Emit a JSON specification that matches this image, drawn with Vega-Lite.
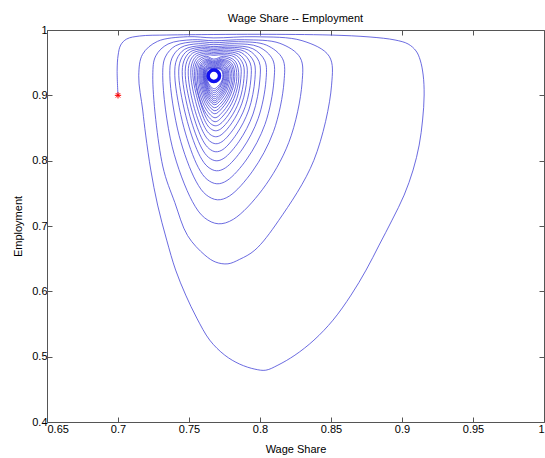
{
"$schema": "https://vega.github.io/schema/vega-lite/v6.json",
"width": 497, "height": 392,
"autosize": {"type": "none"},
"padding": {"left": 47, "top": 30, "right": 1, "bottom": 36},
"background": "white",
"title": {"text": "Wage Share -- Employment", "fontSize": 11, "fontWeight": "normal", "font": "Liberation Sans", "color": "black", "offset": 0},
"config": {"view": {"stroke": null}, "axis": {"labelFont": "Liberation Sans", "titleFont": "Liberation Sans", "labelFontSize": 11, "titleFontSize": 11, "titleFontWeight": "normal", "labelColor": "black", "titleColor": "black", "domainColor": "#555555", "tickColor": "#555555", "grid": false}},
"datasets": {
"path": [
{"i":0,"w":0.7000,"e":0.9000},{"i":1,"w":0.6994,"e":0.9387},{"i":2,"w":0.7001,"e":0.9617},{"i":3,"w":0.7019,"e":0.9770},{"i":4,"w":0.7061,"e":0.9862},{"i":5,"w":0.7153,"e":0.9908},{"i":6,"w":0.7343,"e":0.9923},{"i":7,"w":0.7675,"e":0.9931},{"i":8,"w":0.7999,"e":0.9934},{"i":9,"w":0.8493,"e":0.9923},
{"i":10,"w":0.8775,"e":0.9893},{"i":11,"w":0.8951,"e":0.9847},{"i":12,"w":0.9043,"e":0.9786},{"i":13,"w":0.9099,"e":0.9679},{"i":14,"w":0.9128,"e":0.9541},{"i":15,"w":0.9149,"e":0.9311},{"i":16,"w":0.9156,"e":0.9005},{"i":17,"w":0.9145,"e":0.8622},{"i":18,"w":0.9121,"e":0.8239},{"i":19,"w":0.9078,"e":0.7856},
{"i":20,"w":0.9015,"e":0.7473},{"i":21,"w":0.8930,"e":0.7090},{"i":22,"w":0.8839,"e":0.6708},{"i":23,"w":0.8747,"e":0.6325},{"i":24,"w":0.8641,"e":0.5942},{"i":25,"w":0.8514,"e":0.5559},{"i":26,"w":0.8380,"e":0.5253},{"i":27,"w":0.8246,"e":0.5023},{"i":28,"w":0.8126,"e":0.4870},{"i":29,"w":0.8041,"e":0.4793},
{"i":30,"w":0.7964,"e":0.4809},{"i":31,"w":0.7858,"e":0.4885},{"i":32,"w":0.7752,"e":0.5023},{"i":33,"w":0.7646,"e":0.5253},{"i":34,"w":0.7555,"e":0.5590},{"i":35,"w":0.7477,"e":0.5942},{"i":36,"w":0.7406,"e":0.6325},{"i":37,"w":0.7343,"e":0.6784},{"i":38,"w":0.7279,"e":0.7320},{"i":39,"w":0.7231,"e":0.7856},
{"i":39.4,"w":0.7195,"e":0.8392},{"i":39.7,"w":0.7174,"e":0.8775},
{"i":40,"w":0.7146,"e":0.9300},{"i":41,"w":0.7173,"e":0.9628},{"i":42,"w":0.7278,"e":0.9826},{"i":43,"w":0.7490,"e":0.9897},{"i":44,"w":0.7675,"e":0.9879},{"i":45,"w":0.7965,"e":0.9897},{"i":46,"w":0.8296,"e":0.9837},{"i":47,"w":0.8487,"e":0.9599},{"i":48,"w":0.8504,"e":0.9156},{"i":49,"w":0.8379,"e":0.8004},
{"i":50,"w":0.8131,"e":0.7083},{"i":50.5,"w":0.7964,"e":0.6631},{"i":51,"w":0.7857,"e":0.6490},{"i":52,"w":0.7774,"e":0.6421},{"i":52.3,"w":0.7689,"e":0.6447},{"i":52.6,"w":0.7612,"e":0.6554},{"i":53,"w":0.7490,"e":0.6853},{"i":53.5,"w":0.7400,"e":0.7360},{"i":54,"w":0.7315,"e":0.7918},
{"i":55,"w":0.7245,"e":0.9300},{"i":56,"w":0.7266,"e":0.9603},{"i":57,"w":0.7352,"e":0.9785},{"i":58,"w":0.7524,"e":0.9851},{"i":59,"w":0.7675,"e":0.9835},{"i":60,"w":0.7892,"e":0.9851},{"i":61,"w":0.8140,"e":0.9796},{"i":62,"w":0.8283,"e":0.9576},{"i":63,"w":0.8296,"e":0.9187},{"i":64,"w":0.8203,"e":0.8280},
{"i":65,"w":0.8016,"e":0.7555},{"i":66,"w":0.7812,"e":0.7102},{"i":67,"w":0.7706,"e":0.7034},{"i":67.5,"w":0.7610,"e":0.7125},{"i":68,"w":0.7524,"e":0.7374},{"i":69,"w":0.7382,"e":0.8212},
{"i":70,"w":0.7315,"e":0.9300},{"i":71,"w":0.7333,"e":0.9586},{"i":72,"w":0.7405,"e":0.9758},{"i":73,"w":0.7549,"e":0.9821},{"i":74,"w":0.7675,"e":0.9805},{"i":75,"w":0.7848,"e":0.9821},{"i":76,"w":0.8045,"e":0.9769},{"i":77,"w":0.8159,"e":0.9560},{"i":78,"w":0.8169,"e":0.9205},{"i":79,"w":0.8095,"e":0.8445},
{"i":80,"w":0.7947,"e":0.7838},{"i":81,"w":0.7784,"e":0.7458},{"i":82,"w":0.7700,"e":0.7401},{"i":82.5,"w":0.7621,"e":0.7477},{"i":83,"w":0.7549,"e":0.7686},{"i":84,"w":0.7430,"e":0.8388},
{"i":85,"w":0.7365,"e":0.9300},{"i":86,"w":0.7380,"e":0.9570},{"i":87,"w":0.7442,"e":0.9731},{"i":88,"w":0.7566,"e":0.9790},{"i":89,"w":0.7675,"e":0.9775},{"i":90,"w":0.7823,"e":0.9790},{"i":91,"w":0.7992,"e":0.9741},{"i":92,"w":0.8090,"e":0.9545},{"i":93,"w":0.8098,"e":0.9217},{"i":94,"w":0.8035,"e":0.8556},
{"i":95,"w":0.7908,"e":0.8026},{"i":96,"w":0.7768,"e":0.7696},{"i":97,"w":0.7696,"e":0.7646},{"i":97.5,"w":0.7628,"e":0.7712},{"i":98,"w":0.7566,"e":0.7894},{"i":99,"w":0.7464,"e":0.8506},
{"i":100,"w":0.7400,"e":0.9300},{"i":101,"w":0.7414,"e":0.9553},{"i":102,"w":0.7469,"e":0.9704},{"i":103,"w":0.7579,"e":0.9759},{"i":104,"w":0.7675,"e":0.9746},{"i":105,"w":0.7803,"e":0.9759},{"i":106,"w":0.7950,"e":0.9713},{"i":107,"w":0.8034,"e":0.9530},{"i":108,"w":0.8042,"e":0.9227},{"i":109,"w":0.7987,"e":0.8645},
{"i":110,"w":0.7877,"e":0.8180},{"i":111,"w":0.7756,"e":0.7889},{"i":112,"w":0.7693,"e":0.7845},{"i":112.5,"w":0.7634,"e":0.7903},{"i":113,"w":0.7579,"e":0.8063},{"i":114,"w":0.7488,"e":0.8602},
{"i":115,"w":0.7428,"e":0.9300},{"i":116,"w":0.7441,"e":0.9540},{"i":117,"w":0.7490,"e":0.9684},{"i":118,"w":0.7589,"e":0.9736},{"i":119,"w":0.7675,"e":0.9723},{"i":120,"w":0.7789,"e":0.9736},{"i":121,"w":0.7918,"e":0.9693},{"i":122,"w":0.7993,"e":0.9518},{"i":123,"w":0.7999,"e":0.9235},{"i":124,"w":0.7951,"e":0.8714},
{"i":125,"w":0.7853,"e":0.8297},{"i":126,"w":0.7746,"e":0.8037},{"i":127,"w":0.7691,"e":0.7998},{"i":127.5,"w":0.7638,"e":0.8050},{"i":128,"w":0.7589,"e":0.8193},{"i":129,"w":0.7507,"e":0.8675},
{"i":130,"w":0.7453,"e":0.9300},{"i":131,"w":0.7464,"e":0.9527},{"i":132,"w":0.7508,"e":0.9664},{"i":133,"w":0.7597,"e":0.9714},{"i":134,"w":0.7675,"e":0.9701},{"i":135,"w":0.7776,"e":0.9714},{"i":136,"w":0.7892,"e":0.9672},{"i":137,"w":0.7958,"e":0.9507},{"i":138,"w":0.7964,"e":0.9242},{"i":139,"w":0.7921,"e":0.8776},
{"i":140,"w":0.7834,"e":0.8404},{"i":141,"w":0.7739,"e":0.8171},{"i":142,"w":0.7689,"e":0.8136},{"i":142.5,"w":0.7642,"e":0.8183},{"i":143,"w":0.7597,"e":0.8311},{"i":144,"w":0.7524,"e":0.8741},
{"i":145,"w":0.7474,"e":0.9300},{"i":146,"w":0.7484,"e":0.9515},{"i":147,"w":0.7524,"e":0.9644},{"i":148,"w":0.7605,"e":0.9691},{"i":149,"w":0.7675,"e":0.9679},{"i":150,"w":0.7766,"e":0.9691},{"i":151,"w":0.7871,"e":0.9651},{"i":152,"w":0.7931,"e":0.9495},{"i":153,"w":0.7936,"e":0.9248},{"i":154,"w":0.7897,"e":0.8832},
{"i":155,"w":0.7818,"e":0.8498},{"i":156,"w":0.7732,"e":0.8290},{"i":157,"w":0.7688,"e":0.8259},{"i":157.5,"w":0.7645,"e":0.8301},{"i":158,"w":0.7605,"e":0.8415},{"i":159,"w":0.7538,"e":0.8800},
{"i":160,"w":0.7495,"e":0.9300},{"i":161,"w":0.7504,"e":0.9502},{"i":162,"w":0.7540,"e":0.9623},{"i":163,"w":0.7612,"e":0.9668},{"i":164,"w":0.7675,"e":0.9656},{"i":165,"w":0.7756,"e":0.9668},{"i":166,"w":0.7850,"e":0.9631},{"i":167,"w":0.7903,"e":0.9484},{"i":168,"w":0.7908,"e":0.9253},{"i":169,"w":0.7873,"e":0.8880},
{"i":170,"w":0.7803,"e":0.8581},{"i":171,"w":0.7726,"e":0.8394},{"i":172,"w":0.7687,"e":0.8366},{"i":172.5,"w":0.7648,"e":0.8403},{"i":173,"w":0.7612,"e":0.8506},{"i":174,"w":0.7553,"e":0.8852},
{"i":175,"w":0.7513,"e":0.9300},{"i":176,"w":0.7521,"e":0.9490},{"i":177,"w":0.7553,"e":0.9603},{"i":178,"w":0.7618,"e":0.9645},{"i":179,"w":0.7675,"e":0.9634},{"i":180,"w":0.7749,"e":0.9645},{"i":181,"w":0.7834,"e":0.9610},{"i":182,"w":0.7882,"e":0.9472},{"i":183,"w":0.7887,"e":0.9258},{"i":184,"w":0.7855,"e":0.8921},
{"i":185,"w":0.7791,"e":0.8651},{"i":186,"w":0.7722,"e":0.8483},{"i":187,"w":0.7686,"e":0.8458},{"i":187.5,"w":0.7651,"e":0.8491},{"i":188,"w":0.7618,"e":0.8584},{"i":189,"w":0.7565,"e":0.8896},
{"i":190,"w":0.7527,"e":0.9300},{"i":191,"w":0.7534,"e":0.9477},{"i":192,"w":0.7564,"e":0.9583},{"i":193,"w":0.7623,"e":0.9622},{"i":194,"w":0.7675,"e":0.9612},{"i":195,"w":0.7742,"e":0.9622},{"i":196,"w":0.7818,"e":0.9589},{"i":197,"w":0.7862,"e":0.9461},{"i":198,"w":0.7865,"e":0.9262},{"i":199,"w":0.7837,"e":0.8955},
{"i":200,"w":0.7780,"e":0.8710},{"i":201,"w":0.7717,"e":0.8557},{"i":202,"w":0.7685,"e":0.8534},{"i":202.5,"w":0.7653,"e":0.8565},{"i":203,"w":0.7623,"e":0.8649},{"i":204,"w":0.7574,"e":0.8932},
{"i":205,"w":0.7538,"e":0.9300},{"i":206,"w":0.7558,"e":0.9524},{"i":207,"w":0.7620,"e":0.9599},{"i":208,"w":0.7675,"e":0.9554},{"i":209,"w":0.7746,"e":0.9599},{"i":210,"w":0.7825,"e":0.9524},{"i":211,"w":0.7851,"e":0.9285},{"i":212,"w":0.7816,"e":0.8948},{"i":213,"w":0.7746,"e":0.8701},{"i":214,"w":0.7684,"e":0.8596},{"i":215,"w":0.7620,"e":0.8722},{"i":216,"w":0.7568,"e":0.9004},
{"i":217,"w":0.7548,"e":0.9300},{"i":218,"w":0.7567,"e":0.9507},{"i":219,"w":0.7624,"e":0.9576},{"i":220,"w":0.7675,"e":0.9534},{"i":221,"w":0.7740,"e":0.9576},{"i":222,"w":0.7813,"e":0.9507},{"i":223,"w":0.7837,"e":0.9286},{"i":224,"w":0.7805,"e":0.8978},{"i":225,"w":0.7740,"e":0.8753},{"i":226,"w":0.7683,"e":0.8657},{"i":227,"w":0.7624,"e":0.8773},{"i":228,"w":0.7576,"e":0.9030},
{"i":229,"w":0.7559,"e":0.9300},{"i":230,"w":0.7576,"e":0.9490},{"i":231,"w":0.7628,"e":0.9553},{"i":232,"w":0.7675,"e":0.9515},{"i":233,"w":0.7734,"e":0.9553},{"i":234,"w":0.7801,"e":0.9490},{"i":235,"w":0.7823,"e":0.9287},{"i":236,"w":0.7793,"e":0.9009},{"i":237,"w":0.7734,"e":0.8805},{"i":238,"w":0.7682,"e":0.8718},{"i":239,"w":0.7628,"e":0.8823},{"i":240,"w":0.7584,"e":0.9056},
{"i":241,"w":0.7569,"e":0.9300},{"i":242,"w":0.7585,"e":0.9478},{"i":243,"w":0.7633,"e":0.9537},{"i":244,"w":0.7675,"e":0.9502},{"i":245,"w":0.7730,"e":0.9537},{"i":246,"w":0.7792,"e":0.9478},{"i":247,"w":0.7813,"e":0.9288},{"i":248,"w":0.7785,"e":0.9032},{"i":249,"w":0.7730,"e":0.8844},{"i":250,"w":0.7682,"e":0.8764},{"i":251,"w":0.7633,"e":0.8860},{"i":252,"w":0.7592,"e":0.9075},
{"i":253,"w":0.7576,"e":0.9300},{"i":254,"w":0.7591,"e":0.9467},{"i":255,"w":0.7636,"e":0.9522},{"i":256,"w":0.7675,"e":0.9489},{"i":257,"w":0.7726,"e":0.9522},{"i":258,"w":0.7783,"e":0.9467},{"i":259,"w":0.7802,"e":0.9289},{"i":260,"w":0.7777,"e":0.9055},{"i":261,"w":0.7726,"e":0.8883},{"i":262,"w":0.7681,"e":0.8810},{"i":263,"w":0.7636,"e":0.8898},{"i":264,"w":0.7598,"e":0.9094},
{"i":265,"w":0.7583,"e":0.9300},{"i":266,"w":0.7597,"e":0.9455},{"i":267,"w":0.7638,"e":0.9507},{"i":268,"w":0.7675,"e":0.9476},{"i":269,"w":0.7722,"e":0.9507},{"i":270,"w":0.7774,"e":0.9455},{"i":271,"w":0.7791,"e":0.9290},{"i":272,"w":0.7768,"e":0.9078},{"i":273,"w":0.7722,"e":0.8923},{"i":274,"w":0.7681,"e":0.8856},{"i":275,"w":0.7638,"e":0.8936},{"i":276,"w":0.7603,"e":0.9113},
{"i":277,"w":0.7590,"e":0.9300},{"i":278,"w":0.7603,"e":0.9444},{"i":279,"w":0.7641,"e":0.9491},{"i":280,"w":0.7675,"e":0.9463},{"i":281,"w":0.7717,"e":0.9491},{"i":282,"w":0.7765,"e":0.9444},{"i":283,"w":0.7781,"e":0.9290},{"i":284,"w":0.7760,"e":0.9093},{"i":285,"w":0.7717,"e":0.8949},{"i":286,"w":0.7680,"e":0.8887},{"i":287,"w":0.7641,"e":0.8961},{"i":288,"w":0.7609,"e":0.9126},
{"i":289,"w":0.7597,"e":0.9300},{"i":290,"w":0.7609,"e":0.9432},{"i":291,"w":0.7644,"e":0.9476},{"i":292,"w":0.7675,"e":0.9450},{"i":293,"w":0.7714,"e":0.9476},{"i":294,"w":0.7759,"e":0.9432},{"i":295,"w":0.7774,"e":0.9291},{"i":296,"w":0.7754,"e":0.9109},{"i":297,"w":0.7714,"e":0.8975},{"i":298,"w":0.7680,"e":0.8917},{"i":299,"w":0.7644,"e":0.8986},{"i":300,"w":0.7614,"e":0.9139},
{"i":301,"w":0.7601,"e":0.9300},{"i":302,"w":0.7612,"e":0.9421},{"i":303,"w":0.7645,"e":0.9461},{"i":304,"w":0.7675,"e":0.9437},{"i":305,"w":0.7712,"e":0.9461},{"i":306,"w":0.7753,"e":0.9421},{"i":307,"w":0.7767,"e":0.9292},{"i":308,"w":0.7748,"e":0.9124},{"i":309,"w":0.7712,"e":0.9001},{"i":310,"w":0.7680,"e":0.8948},{"i":311,"w":0.7645,"e":0.9011},{"i":312,"w":0.7617,"e":0.9152},
{"i":313,"w":0.7605,"e":0.9300},{"i":314,"w":0.7615,"e":0.9409},{"i":315,"w":0.7647,"e":0.9446},{"i":316,"w":0.7675,"e":0.9424},{"i":317,"w":0.7709,"e":0.9446},{"i":318,"w":0.7747,"e":0.9409},{"i":319,"w":0.7760,"e":0.9293},{"i":320,"w":0.7743,"e":0.9139},{"i":321,"w":0.7709,"e":0.9027},{"i":322,"w":0.7679,"e":0.8978},{"i":323,"w":0.7647,"e":0.9036},{"i":324,"w":0.7620,"e":0.9165},
{"i":325,"w":0.7608,"e":0.9300},{"i":326,"w":0.7618,"e":0.9398},{"i":327,"w":0.7648,"e":0.9430},{"i":328,"w":0.7675,"e":0.9411},{"i":329,"w":0.7706,"e":0.9430},{"i":330,"w":0.7741,"e":0.9398},{"i":331,"w":0.7753,"e":0.9293},{"i":332,"w":0.7737,"e":0.9154},{"i":333,"w":0.7706,"e":0.9053},{"i":334,"w":0.7679,"e":0.9009},{"i":335,"w":0.7648,"e":0.9061},{"i":336,"w":0.7623,"e":0.9178},
{"i":337,"w":0.7612,"e":0.9300},{"i":338,"w":0.7621,"e":0.9392},{"i":339,"w":0.7650,"e":0.9423},{"i":340,"w":0.7675,"e":0.9404},{"i":341,"w":0.7703,"e":0.9423},{"i":342,"w":0.7735,"e":0.9392},{"i":343,"w":0.7746,"e":0.9294},{"i":344,"w":0.7731,"e":0.9170},{"i":345,"w":0.7703,"e":0.9079},{"i":346,"w":0.7679,"e":0.9040},{"i":347,"w":0.7650,"e":0.9087},{"i":348,"w":0.7625,"e":0.9191},
{"i":349,"w":0.7615,"e":0.9300},{"i":350,"w":0.7624,"e":0.9386},{"i":351,"w":0.7651,"e":0.9415},{"i":352,"w":0.7675,"e":0.9398},{"i":353,"w":0.7702,"e":0.9415},{"i":354,"w":0.7732,"e":0.9386},{"i":355,"w":0.7742,"e":0.9294},{"i":356,"w":0.7729,"e":0.9185},{"i":357,"w":0.7702,"e":0.9105},{"i":358,"w":0.7678,"e":0.9070},{"i":359,"w":0.7651,"e":0.9112},{"i":360,"w":0.7628,"e":0.9204},
{"i":361,"w":0.7619,"e":0.9300},{"i":362,"w":0.7627,"e":0.9380},{"i":363,"w":0.7652,"e":0.9407},{"i":364,"w":0.7675,"e":0.9391},{"i":365,"w":0.7700,"e":0.9407},{"i":366,"w":0.7729,"e":0.9380},{"i":367,"w":0.7739,"e":0.9295},{"i":368,"w":0.7726,"e":0.9200},{"i":369,"w":0.7700,"e":0.9131},{"i":370,"w":0.7678,"e":0.9101},{"i":371,"w":0.7652,"e":0.9137},{"i":372,"w":0.7631,"e":0.9216},
{"i":373,"w":0.7623,"e":0.9300},{"i":374,"w":0.7632,"e":0.9372}
],
"eq": [{"w": 0.7675, "e": 0.930}],
"start": [{"w": 0.700, "e": 0.900}]
},
"resolve": {"axis": {"x": "independent", "y": "independent"}},
"layer": [
{"data": {"name": "path"},
 "mark": {"type": "line", "interpolate": "catmull-rom", "color": "#4545d8", "strokeWidth": 0.8},
 "encoding": {
  "x": {"field": "w", "type": "quantitative", "scale": {"domain": [0.65, 1], "nice": false, "zero": false},
        "axis": {"orient": "bottom", "title": "Wage Share", "values": [0.65, 0.7, 0.75, 0.8, 0.85, 0.9, 0.95, 1], "format": "~g", "tickSize": -5, "labelPadding": 6, "titlePadding": 9}},
  "y": {"field": "e", "type": "quantitative", "scale": {"domain": [0.4, 1], "nice": false, "zero": false},
        "axis": {"orient": "left", "title": "Employment", "values": [0.4, 0.5, 0.6, 0.7, 0.8, 0.9, 1], "format": "~g", "tickSize": -5, "labelPadding": 5, "titlePadding": 8}},
  "order": {"field": "i", "type": "quantitative"}
 }},
{"data": {"name": "eq"},
 "mark": {"type": "point", "filled": true, "fill": "white", "stroke": "#1010ee", "strokeWidth": 3.5, "size": 130, "opacity": 1},
 "encoding": {
  "x": {"field": "w", "type": "quantitative", "axis": {"orient": "top", "labels": false, "title": null, "values": [0.65, 0.7, 0.75, 0.8, 0.85, 0.9, 0.95, 1], "tickSize": -5}},
  "y": {"field": "e", "type": "quantitative", "axis": {"orient": "right", "labels": false, "title": null, "values": [0.4, 0.5, 0.6, 0.7, 0.8, 0.9, 1], "tickSize": -5}}
 }},
{"data": {"name": "start"},
 "mark": {"type": "point", "shape": "M-1,0L1,0M0,-1L0,1M-0.7,-0.7L0.7,0.7M-0.7,0.7L0.7,-0.7", "filled": false, "stroke": "red", "strokeWidth": 1, "size": 40, "opacity": 1},
 "encoding": {
  "x": {"field": "w", "type": "quantitative", "axis": null},
  "y": {"field": "e", "type": "quantitative", "axis": null}
 }}
]
}
